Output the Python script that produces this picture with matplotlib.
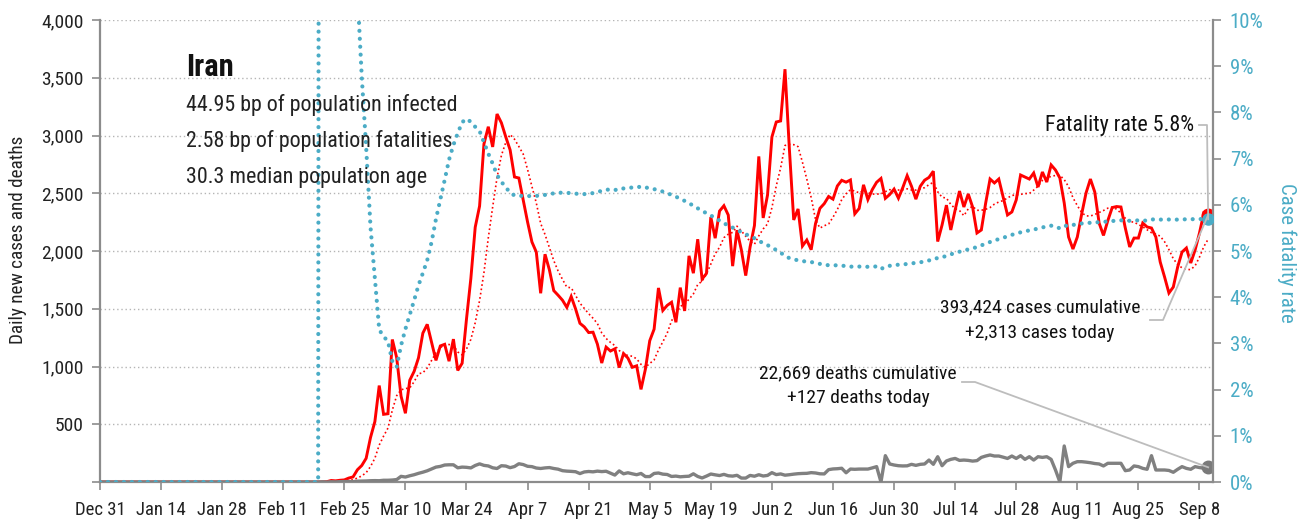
import numpy as np
import pandas as pd
import matplotlib
matplotlib.use("Agg")
import matplotlib.pyplot as plt
import matplotlib.font_manager as fm
from matplotlib.lines import Line2D

# ---------------- data ----------------
tick_days = list(range(0, 253, 14))
tick_labels = ["Dec 31", "Jan 14", "Jan 28", "Feb 11", "Feb 25", "Mar 10", "Mar 24",
               "Apr 7", "Apr 21", "May 5", "May 19", "Jun 2", "Jun 16", "Jun 30",
               "Jul 14", "Jul 28", "Aug 11", "Aug 25", "Sep 8"]

first_day = 51  # days since Dec 31 of first reported case
daily_cases = [
    2, 3, 13, 10, 15, 18, 34, 44, 106, 143,
    205, 385, 523, 835, 586, 591, 1234, 1076, 743, 595,
    881, 958, 1075, 1289, 1365, 1209, 1053, 1178, 1192, 1046,
    1237, 966, 1028, 1411, 1762, 2206, 2389, 2926, 3076, 2901,
    3186, 3110, 2988, 2875, 2641, 2632, 2442, 2251, 2078, 1991,
    1634, 1972, 1837, 1657, 1617, 1574, 1512, 1606, 1499, 1374,
    1343, 1294, 1297, 1194, 1030, 1168, 1134, 1153, 991, 1112,
    1073, 993, 1006, 802, 976, 1223, 1323, 1680, 1485, 1529,
    1556, 1383, 1683, 1481, 1958, 1808, 2102, 1757, 1806, 2294,
    2111, 2346, 2392, 2311, 1869, 2180, 2009, 1787, 2035, 2220,
    2819, 2286, 2485, 2987, 3117, 3126, 3574, 2886, 2269, 2364,
    2043, 2095, 2011, 2238, 2369, 2410, 2472, 2449, 2563, 2612,
    2596, 2615, 2322, 2368, 2573, 2445, 2531, 2595, 2628, 2456,
    2489, 2536, 2457, 2549, 2652, 2560, 2449, 2560, 2613, 2637,
    2691, 2082, 2225, 2397, 2182, 2355, 2519, 2381, 2494, 2381,
    2156, 2182, 2416, 2623, 2589, 2623, 2468, 2312, 2338, 2442,
    2658, 2641, 2623, 2675, 2554, 2684, 2597, 2745, 2701, 2632,
    2416, 2121, 2017, 2121, 2320, 2502, 2623, 2511, 2242, 2135,
    2264, 2376, 2385, 2381, 2199, 2035, 2112, 2112, 2242, 2208,
    2199, 2121, 1905, 1775, 1636, 1688, 1861, 1991, 2026, 1896,
    2009, 2156, 2329, 2313,
]
daily_deaths = [
    2, 0, 2, 1, 3, 4, 4, 3, 7, 8,
    9, 11, 12, 11, 15, 15, 17, 21, 49, 43,
    54, 63, 75, 85, 97, 113, 129, 135, 147, 149,
    149, 123, 129, 127, 122, 143, 157, 144, 139, 123,
    117, 141, 138, 124, 134, 158, 151, 136, 133, 121,
    117, 122, 125, 117, 111, 98, 94, 92, 89, 73,
    87, 91, 88, 94, 90, 93, 76, 60, 96, 71,
    80, 71, 63, 74, 47, 47, 74, 78, 68, 65,
    48, 51, 45, 48, 50, 71, 48, 35, 51, 69,
    62, 56, 66, 54, 51, 58, 34, 34, 57, 50,
    63, 52, 57, 81, 64, 70, 59, 63, 68, 72,
    74, 75, 81, 78, 71, 70, 107, 113, 115, 119,
    80, 112, 110, 112, 112, 112, 122, 133, 0, 228,
    156, 147, 141, 139, 140, 153, 144, 153, 156, 190,
    153, 219, 141, 182, 196, 204, 187, 190, 187, 181,
    185, 213, 225, 234, 225, 225, 215, 204, 225, 204,
    228, 196, 219, 190, 219, 213, 219, 196, 104, 0,
    312, 133, 162, 176, 176, 172, 167, 160, 156, 139,
    162, 162, 162, 162, 98, 104, 139, 133, 118, 110,
    228, 104, 104, 104, 100, 84, 110, 133, 118, 110,
    133, 125, 119, 127,
]

title = "Iran"
subtitle_lines = ["44.95 bp of population infected",
                  "2.58 bp of population fatalities",
                  "30.3 median population age"]
fatality_text = "Fatality rate 5.8%"
cases_text = ["393,424 cases cumulative", "+2,313 cases today"]
deaths_text = ["22,669 deaths cumulative", "+127 deaths today"]

# ---------------- derived series ----------------
cases = pd.Series([0] * first_day + daily_cases, dtype=float)
deaths = pd.Series([0] * first_day + daily_deaths, dtype=float)
days = np.arange(len(cases))
avg7 = cases.rolling(7, min_periods=1).mean()
cum_c = cases.cumsum()
cum_d = deaths.cumsum()
cfr = (cum_d / cum_c.where(cum_c > 0)).fillna(0.0)

# ---------------- fonts ----------------
names = {f.name for f in fm.fontManager.ttflist}
narrow = None
for cand in ["Liberation Sans Narrow", "Roboto Condensed", "DejaVu Sans Condensed"]:
    if cand in names:
        narrow = cand
        break
if narrow is None:
    plt.rcParams["font.family"] = ["DejaVu Sans"]
    plt.rcParams["font.stretch"] = "condensed"
else:
    plt.rcParams["font.family"] = [narrow, "DejaVu Sans"]

W, H = 1302, 523
fig = plt.figure(figsize=(W / 100, H / 100), dpi=100)
L, R, T, B = 100, 1213, 20, 482
ax = fig.add_axes([L / W, 1 - B / H, (R - L) / W, (B - T) / H])
ax2 = ax.twinx()

RED = "#ff0000"
TEAL = "#4bacc6"
GRAY = "#808080"
AXC = "#8c8c8c"
TXT = "#222222"

# grid
ax.set_axisbelow(True)
ax.yaxis.grid(True, linestyle=(0, (1, 2)), color="#b5b5b5", lw=1.0)

ax.plot(days, cases, color=RED, lw=2.1, zorder=3, solid_joinstyle="miter")
ax.plot(days, avg7, color=RED, lw=1.2, linestyle=(0, (1, 1.6)), zorder=3)
ax.plot(days, deaths, color=GRAY, lw=2.4, zorder=3)
ax.plot([days[-1]], [cases.iloc[-1]], "o", ms=9, color=RED, zorder=4)
ax.plot([days[-1]], [deaths.iloc[-1]], "o", ms=9, color="#7a7a7a", zorder=4)

ax2.plot(days, cfr, color=TEAL, lw=3.0, linestyle=(0, (0.01, 1.9)),
         dash_capstyle="round", zorder=3)
ax2.plot([days[-1]], [cfr.iloc[-1]], "o", ms=8, color=TEAL, zorder=5)

ax.set_xlim(0, 255.1)
ax.set_ylim(0, 4000)
ax2.set_ylim(0, 0.10)

yt = list(range(0, 4001, 500))
ax.set_yticks(yt)
ax.set_yticklabels(["" if v == 0 else f"{v:,}" for v in yt])
ax.set_xticks(tick_days)
ax.set_xticklabels(tick_labels)
pt = [i / 100 for i in range(11)]
ax2.set_yticks(pt)
ax2.set_yticklabels([f"{i}%" for i in range(11)])

for a in (ax, ax2):
    a.spines["top"].set_visible(False)
    for s in ("left", "right", "bottom"):
        a.spines[s].set_color(AXC)
        a.spines[s].set_linewidth(1.6)
ax.spines["right"].set_visible(False)
ax2.spines["left"].set_visible(False)
ax2.spines["bottom"].set_visible(False)

ax.tick_params(axis="y", direction="out", length=6, width=1.2, color=AXC,
               labelcolor=TXT, labelsize=14, pad=6)
ax.tick_params(axis="x", direction="out", length=6, width=1.2, color=AXC,
               labelcolor=TXT, labelsize=13.5, pad=8)
ax2.tick_params(axis="y", direction="out", length=6, width=1.2, color=AXC,
                labelcolor=TEAL, labelsize=15, pad=6)

def fxy(px, py):
    return px / W, 1 - py / H

fig.text(*fxy(18, 240), "Daily new cases and deaths", rotation=90, ha="center",
         va="center", fontsize=13.8, color=TXT)
fig.text(*fxy(1287, 253), "Case fatality rate", rotation=270, ha="center",
         va="center", fontsize=15, color=TEAL)

fig.text(*fxy(186, 67), title, ha="left", va="center", fontsize=22,
         fontweight="bold", color="#111111")
for i, line in enumerate(subtitle_lines):
    fig.text(*fxy(186, 105 + 36 * i), line, ha="left", va="center",
             fontsize=15.8, color=TXT)

fig.text(*fxy(1194, 126), fatality_text, ha="right", va="center", fontsize=15.8, color="#111111")
fig.text(*fxy(1040, 307), cases_text[0], ha="center", va="center", fontsize=14, color="#111111")
fig.text(*fxy(1040, 333), cases_text[1], ha="center", va="center", fontsize=14, color="#111111")
fig.text(*fxy(858, 373), deaths_text[0], ha="center", va="center", fontsize=14, color="#111111")
fig.text(*fxy(858, 398), deaths_text[1], ha="center", va="center", fontsize=14, color="#111111")

# leader lines
inv = fig.transFigure.inverted()
p_cfr = inv.transform(ax2.transData.transform((days[-1], cfr.iloc[-1])))
p_case = inv.transform(ax.transData.transform((days[-1], cases.iloc[-1])))
p_death = inv.transform(ax.transData.transform((days[-1], deaths.iloc[-1])))
LC = "#bdbdbd"
for (x1, x2, y), p in [((1199, 1207, 125), p_cfr), ((1150, 1163, 320), p_case),
                        ((962, 975, 382), p_death)]:
    a1 = fxy(x1, y)
    a2 = fxy(x2, y)
    fig.add_artist(Line2D([a1[0], a2[0], p[0]], [a1[1], a2[1], p[1]],
                          transform=fig.transFigure, color=LC, lw=1.3, zorder=2))

fig.savefig("out.png", dpi=100)
